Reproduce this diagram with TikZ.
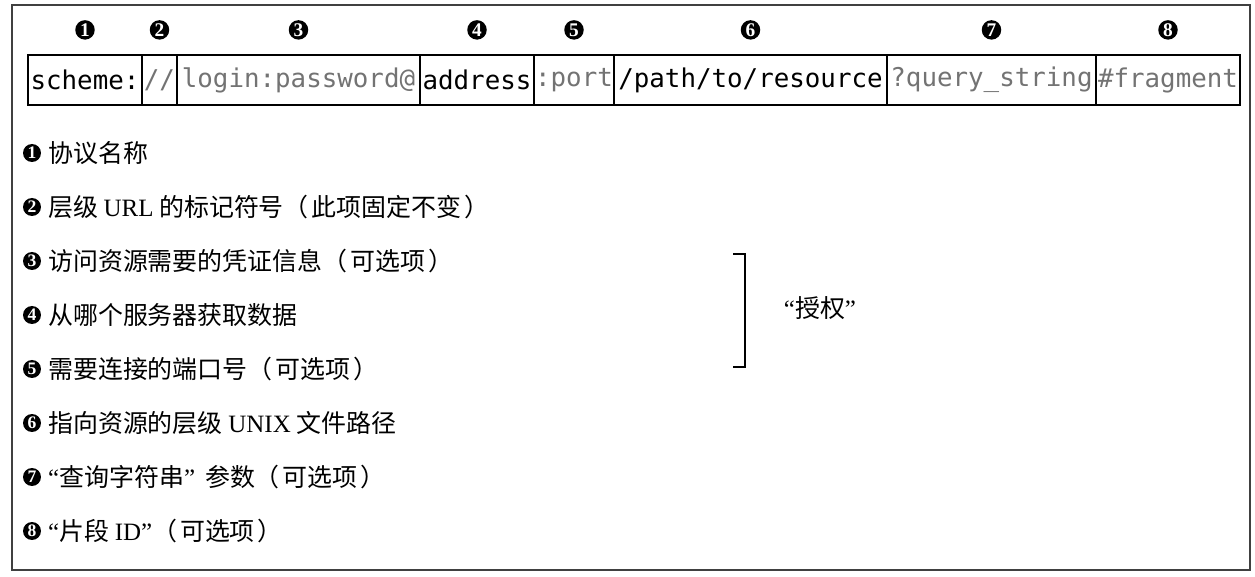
\documentclass[tikz,border=0pt]{standalone}
\usepackage{fontspec}
\setmainfont{Liberation Serif}
\setmonofont{DejaVu Sans Mono}
\newfontfamily\cjk{Noto Sans CJK SC}
\usetikzlibrary{positioning}

\definecolor{partgray}{gray}{0.45}
\definecolor{framegray}{gray}{0.25}
\newcommand\lat[1]{{\rmfamily #1}}
\newcommand\lpar{（\hspace{0.12em}}
\newcommand\rpar{\hspace{0.12em}）}

\tikzset{
  part/.style={draw, line width=1.4pt, outer sep=0pt, inner sep=0pt,
    minimum height=1cm, font=\ttfamily\fontsize{14.7}{16}\selectfont},
  num/.style={circle, fill=black, text=white, inner sep=0pt,
    minimum size=0.39cm, font=\bfseries\fontsize{11}{11}\selectfont},
  smallnum/.style={num, minimum size=0.36cm,
    font=\bfseries\fontsize{10}{10}\selectfont},
  item/.style={inner sep=0pt, font=\cjk\fontsize{14.2}{15}\selectfont},
  bracket/.style={line width=1.2pt},
}

\begin{document}
\begin{tikzpicture}[x=0.02cm, y=-0.02cm]
  \useasboundingbox (0,0) rectangle (1255,577);
  \draw[framegray, line width=1.1pt] (12,5) rectangle (1250,570);

  % the parts of the URL, with their numbers on top
  \foreach \i/\l/\r/\c/\t in {1/28/142/black/scheme:,
      2/142/177/partgray/{//},
      3/177/420/partgray/login:password@,
      4/420/534/black/address,
      5/534/614/partgray/:port,
      6/614/887/black/{/path/to/resource},
      7/887/1096/partgray/?query\_string,
      8/1096/1240/partgray/\#fragment}
  {
    \node[part, text=\c, minimum width={(\r-\l)*0.02cm}] (p\i) at ({(\l+\r)/2}, 80) {\t};
    \node[num, above=0.3cm of p\i] (b\i) {\i};
  }

  % legend
  \foreach \i/\txt in {1/{协议名称},
      2/{层级 \lat{URL} 的标记符号\lpar 此项固定不变\rpar},
      3/{访问资源需要的凭证信息\lpar 可选项\rpar},
      4/{从哪个服务器获取数据},
      5/{需要连接的端口号\lpar 可选项\rpar},
      6/{指向资源的层级 \lat{UNIX} 文件路径},
      7/{\lat{“}查询字符串\lat{”}\hspace{0.4em}参数\lpar 可选项\rpar},
      8/{\lat{“}片段 \lat{ID”}\lpar 可选项\rpar}}
  {
    \node[smallnum] (n\i) at (32, {153+54*(\i-1)}) {\i};
    \node[item, right=0.13cm of n\i] (t\i) {\txt};
  }

  % authority bracket
  \coordinate (brtop) at (733,254);
  \coordinate (brbot) at (733,367);
  \draw[bracket] (brtop) -- ++(12,0) |- (brbot);
  \node[item] (auth) at (820,308) {\lat{“}授权\lat{”}};
\end{tikzpicture}
\end{document}
